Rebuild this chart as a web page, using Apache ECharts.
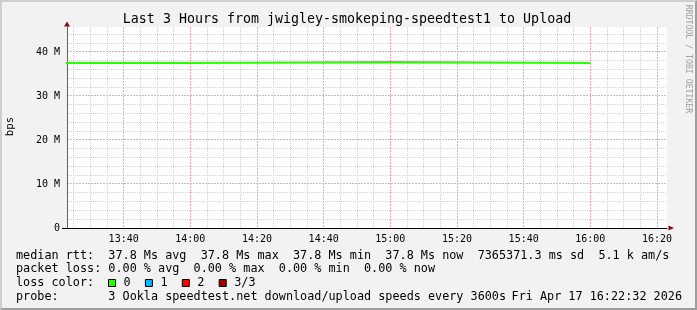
<!DOCTYPE html>
<html><head><meta charset="utf-8">
<script src="https://cdn.jsdelivr.net/npm/echarts@6/dist/echarts.min.js"></script>
<style>
html,body{margin:0;padding:0;background:#f2f2f2;}
#wrap{position:relative;width:697px;height:310px;overflow:hidden;}
#chart{position:absolute;left:0;top:0;width:697px;height:310px;}
#frame{position:absolute;left:0;top:0;width:697px;height:310px;box-sizing:border-box;border-top:2px solid #cfcfcf;border-left:2px solid #cfcfcf;border-bottom:2px solid #9e9e9e;border-right:2px solid #9e9e9e;pointer-events:none;}
</style></head><body>
<div id="wrap"><div id="chart"></div><div id="frame"></div></div>
<script>
// ---- data ----
const chartTitle = 'Last 3 Hours from jwigley-smokeping-speedtest1 to Upload';
const yAxisName = 'bps';
const watermark = 'RRDTOOL / TOBI OETIKER';
const rangeStart = '13:23:00';
const rangeEnd = '16:23:00';
const xTickLabels = ['13:40','14:00','14:20','14:40','15:00','15:20','15:40','16:00','16:20'];
const yTickValuesM = [0, 10, 20, 30, 40];
const yMaxM = 45.68;
const periodStart = ['13:00','14:00','15:00'];
const periodEnd = ['14:00','15:00','16:00'];
const uploadM = [37.52, 37.75, 37.52];
const rttStats = ['37.8 Ms avg','37.8 Ms max','37.8 Ms min','37.8 Ms now','7365371.3 ms sd','5.1 k am/s'];
const lossStats = ['0.00 % avg','0.00 % max','0.00 % min','0.00 % now'];
const lossLabels = ['0','1','2','3/3'];
const lossColors = ['#26ff00','#00b8ff','#ff0000','#a00000'];
const probeText = '3 Ookla speedtest.net download/upload speeds every 3600s';
const dateText = 'Fri Apr 17 16:22:32 2026';

// ---- helpers ----
function sec(s){const p=s.split(':').map(Number);return p[0]*3600+p[1]*60+(p[2]||0);}
function fmtHM(v){const h=Math.floor(v/3600),m=Math.round((v%3600)/60);return h+':'+String(m).padStart(2,'0');}
const M = 1e6;
const xMin = sec(rangeStart), xMax = sec(rangeEnd);
const xMajor = xTickLabels.map(sec);
const xMinor = [];
for (let t = Math.ceil(xMin/300)*300; t <= xMax; t += 300) if (t % 1200 !== 0) xMinor.push(t);
const yMajor = yTickValuesM.map(v=>v*M);
const yMinor = [];
for (let v = 2; v < yMaxM; v += 2) if (v % 10 !== 0) yMinor.push(v*M);

const seriesData = [];
periodStart.forEach((s,i)=>{seriesData.push([sec(s), uploadM[i]*M]);seriesData.push([sec(periodEnd[i]), uploadM[i]*M]);});

const MONO = '"DejaVu Sans Mono", monospace';
const majorStyle = {stroke:'rgb(244,168,168)', lineWidth:1, lineDash:[2,1]};
const minorStyle = {stroke:'rgb(210,210,210)', lineWidth:1, lineDash:[1,1]};
const gridLines = [];
xMinor.forEach(t=>gridLines.push({dir:'v', val:t, major:false}));
yMinor.forEach(v=>gridLines.push({dir:'h', val:v, major:false}));
xMajor.forEach(t=>gridLines.push({dir:'v', val:t, major:true}));
yMajor.filter(v=>v>0).forEach(v=>gridLines.push({dir:'h', val:v, major:true}));

const legendX = 16;
const rowY = [255.6, 269.3, 282.9, 296.6];
const legendFont = '11.8px ' + MONO;
const graphics = [
  {type:'text', x:347, y:20, style:{text:chartTitle, font:'13.3px '+MONO, fill:'#000', textAlign:'center', textVerticalAlign:'middle'}},
  {type:'text', x:10, y:126.5, rotation:Math.PI/2, style:{text:yAxisName, font:'10.7px '+MONO, fill:'#000', textAlign:'center', textVerticalAlign:'middle'}},
  {type:'text', x:688, y:59, rotation:-Math.PI/2, style:{text:watermark, font:'8.2px '+MONO, fill:'#a0a0a0', textAlign:'center', textVerticalAlign:'middle'}},
  {type:'polygon', shape:{points:[[64,26.5],[67,21.5],[70,26.5]]}, style:{fill:'#7f1010'}},
  {type:'polygon', shape:{points:[[668.5,225.5],[674,228],[668.5,230.5]]}, style:{fill:'#7f1010'}},
  {type:'line', shape:{x1:62,y1:228.5,x2:67,y2:228.5}, style:{stroke:'#000', lineWidth:1}},
  {type:'text', x:legendX, y:rowY[0], style:{text:'median rtt:  '+rttStats.join('  '), font:legendFont, fill:'#000', textVerticalAlign:'middle'}},
  {type:'text', x:legendX, y:rowY[1], style:{text:'packet loss: '+lossStats.join('  '), font:legendFont, fill:'#000', textVerticalAlign:'middle'}},
  {type:'text', x:legendX, y:rowY[2], style:{text:'loss color:', font:legendFont, fill:'#000', textVerticalAlign:'middle'}},
  {type:'text', x:legendX, y:rowY[3], style:{text:'probe:       '+probeText, font:legendFont, fill:'#000', textVerticalAlign:'middle'}},
  {type:'text', x:682, y:rowY[3], style:{text:dateText, font:legendFont, fill:'#000', textAlign:'right', textVerticalAlign:'middle'}}
];
lossLabels.forEach((lab,i)=>{
  const bx = 108.5 + i*36.9;
  graphics.push({type:'rect', shape:{x:bx, y:279.5, width:7, height:7}, style:{fill:lossColors[i], stroke:'#000', lineWidth:1}});
  graphics.push({type:'text', x:bx+15, y:rowY[2], style:{text:lab, font:legendFont, fill:'#000', textVerticalAlign:'middle'}});
});

const chart = echarts.init(document.getElementById('chart'), null, {renderer:'canvas'});
chart.setOption({
  animation:false,
  backgroundColor:'#f2f2f2',
  grid:{left:67, right:30, top:27, bottom:82, show:true, backgroundColor:'#ffffff', borderWidth:0, containLabel:false},
  xAxis:{type:'value', min:xMin, max:xMax, position:'bottom', z:3,
     axisLine:{show:true, lineStyle:{color:'#000', width:1}},
     axisTick:{show:false, customValues:xMajor},
     axisLabel:{customValues:xMajor, formatter:fmtHM, fontFamily:MONO, fontSize:10, color:'#000', margin:6},
     splitLine:{show:false}},
  yAxis:{type:'value', min:0, max:yMaxM*M, z:3,
     axisLine:{show:true, lineStyle:{color:'#606060', width:1}},
     axisTick:{show:false, customValues:yMajor},
     axisLabel:{customValues:yMajor, formatter:v=> v===0?'0':(v/M)+' M', fontFamily:MONO, fontSize:10, color:'#000', margin:7},
     splitLine:{show:false}},
  series:[
    {type:'custom', name:'grid', silent:true, z:1, clip:false,
     data:gridLines.map((g,i)=>[i, 0]), encode:{x:-1, y:-1},
     renderItem:(params, api)=>{
       const g = gridLines[params.dataIndex];
       const cs = params.coordSys;
       const st = Object.assign({}, g.major ? majorStyle : minorStyle);
       if (g.dir === 'v') {
         const x = Math.floor(api.coord([g.val, 0])[0]) + 0.5;
         return {type:'line', shape:{x1:x, y1:cs.y, x2:x, y2:cs.y+cs.height}, style:st};
       }
       const y = Math.floor(api.coord([xMin, g.val])[1]) + 0.5;
       return {type:'line', shape:{x1:cs.x, y1:y, x2:cs.x+cs.width, y2:y}, style:st};
     }},
    {type:'line', data:seriesData, showSymbol:false, symbol:'none',
     lineStyle:{color:'#26ff00', width:2}, itemStyle:{color:'#26ff00'}, z:5}
  ],
  graphic:graphics
});
</script></body></html>
